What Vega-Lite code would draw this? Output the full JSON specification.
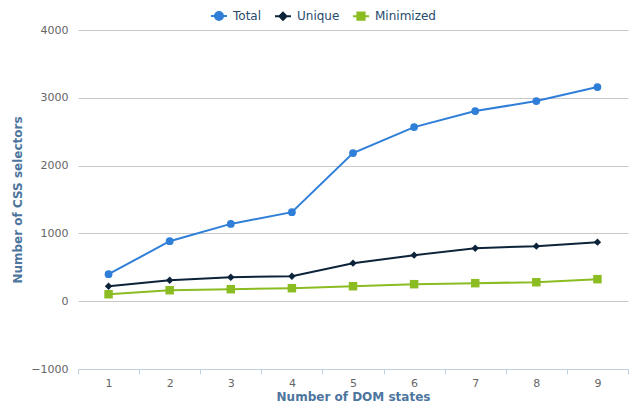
{
  "$schema": "https://vega.github.io/schema/vega-lite/v6.json",
  "width": 550,
  "height": 339,
  "autosize": {"type": "none"},
  "padding": {"left": 78, "top": 30, "right": 4, "bottom": 38},
  "background": "white",
  "config": {
    "font": "DejaVu Sans",
    "view": {"stroke": null}
  },
  "data": {
    "values": [
      {"states": 1, "series": "Total", "value": 398},
      {"states": 2, "series": "Total", "value": 885},
      {"states": 3, "series": "Total", "value": 1140},
      {"states": 4, "series": "Total", "value": 1313},
      {"states": 5, "series": "Total", "value": 2184},
      {"states": 6, "series": "Total", "value": 2568},
      {"states": 7, "series": "Total", "value": 2804},
      {"states": 8, "series": "Total", "value": 2952},
      {"states": 9, "series": "Total", "value": 3159},
      {"states": 1, "series": "Unique", "value": 221},
      {"states": 2, "series": "Unique", "value": 310},
      {"states": 3, "series": "Unique", "value": 354},
      {"states": 4, "series": "Unique", "value": 369},
      {"states": 5, "series": "Unique", "value": 561},
      {"states": 6, "series": "Unique", "value": 679},
      {"states": 7, "series": "Unique", "value": 782},
      {"states": 8, "series": "Unique", "value": 812},
      {"states": 9, "series": "Unique", "value": 871},
      {"states": 1, "series": "Minimized", "value": 103},
      {"states": 2, "series": "Minimized", "value": 162},
      {"states": 3, "series": "Minimized", "value": 177},
      {"states": 4, "series": "Minimized", "value": 192},
      {"states": 5, "series": "Minimized", "value": 221},
      {"states": 6, "series": "Minimized", "value": 251},
      {"states": 7, "series": "Minimized", "value": 266},
      {"states": 8, "series": "Minimized", "value": 280},
      {"states": 9, "series": "Minimized", "value": 325}
    ]
  },
  "encoding": {
    "x": {
      "field": "states",
      "type": "ordinal",
      "bandPosition": 0.5,
      "scale": {"type": "band", "paddingInner": 0, "paddingOuter": 0},
      "axis": {
        "title": "Number of DOM states",
        "labelAngle": 0,
        "tickBand": "extent",
        "domainColor": "#C0D0E0",
        "tickColor": "#C0D0E0",
        "tickSize": 5,
        "labelColor": "#666666",
        "labelFontSize": 11,
        "labelPadding": 3,
        "titleColor": "#4d759e",
        "titleFontSize": 12,
        "titleFontWeight": "bold",
        "titlePadding": 3,
        "grid": false,
        "zindex": 1
      }
    },
    "y": {
      "field": "value",
      "type": "quantitative",
      "scale": {"domain": [-1000, 4000], "nice": false, "zero": false},
      "axis": {
        "title": "Number of CSS selectors",
        "values": [-1000, 0, 1000, 2000, 3000, 4000],
        "format": "d",
        "domain": false,
        "ticks": false,
        "grid": true,
        "gridColor": "#C8C8C8",
        "gridWidth": 1,
        "labelColor": "#666666",
        "labelFontSize": 11,
        "labelPadding": 10,
        "titleColor": "#4d759e",
        "titleFontSize": 12,
        "titleFontWeight": "bold",
        "titlePadding": 6
      }
    },
    "color": {
      "field": "series",
      "type": "nominal",
      "scale": {"domain": ["Total", "Unique", "Minimized"], "range": ["#2f7ed8", "#0d233a", "#8bbc21"]},
      "legend": {
        "title": null,
        "orient": "none",
        "direction": "horizontal",
        "legendX": 132,
        "legendY": -23,
        "labelColor": "#274b6d",
        "labelFontSize": 12,
        "labelOffset": 5,
        "columnPadding": 9,
        "symbolSize": 256,
        "symbolStrokeWidth": 2,
        "encode": {
          "symbols": {
            "update": {
              "shape": {"signal": "datum.value === 'Total' ? 'M-1,0H1M0.5,0A0.5,0.5 0 1 1 -0.5,0A0.5,0.5 0 1 1 0.5,0Z' : datum.value === 'Unique' ? 'M-1,0H1M0,-0.45L0.45,0L0,0.45L-0.45,0Z' : 'M-1,0H1M-0.45,-0.45H0.45V0.45H-0.45Z'"},
              "fill": {"signal": "scale('color', datum.value)"},
              "stroke": {"signal": "scale('color', datum.value)"},
              "strokeWidth": {"value": 2}
            }
          }
        }
      }
    }
  },
  "layer": [
    {
      "mark": {"type": "line", "strokeWidth": 2}
    },
    {
      "transform": [{"filter": "datum.series === 'Total'"}],
      "mark": {"type": "point", "shape": "circle", "filled": true, "opacity": 1, "size": 60}
    },
    {
      "transform": [{"filter": "datum.series === 'Unique'"}],
      "mark": {"type": "point", "shape": "diamond", "filled": true, "opacity": 1, "size": 55}
    },
    {
      "transform": [{"filter": "datum.series === 'Minimized'"}],
      "mark": {"type": "point", "shape": "square", "filled": true, "opacity": 1, "size": 72}
    }
  ]
}
